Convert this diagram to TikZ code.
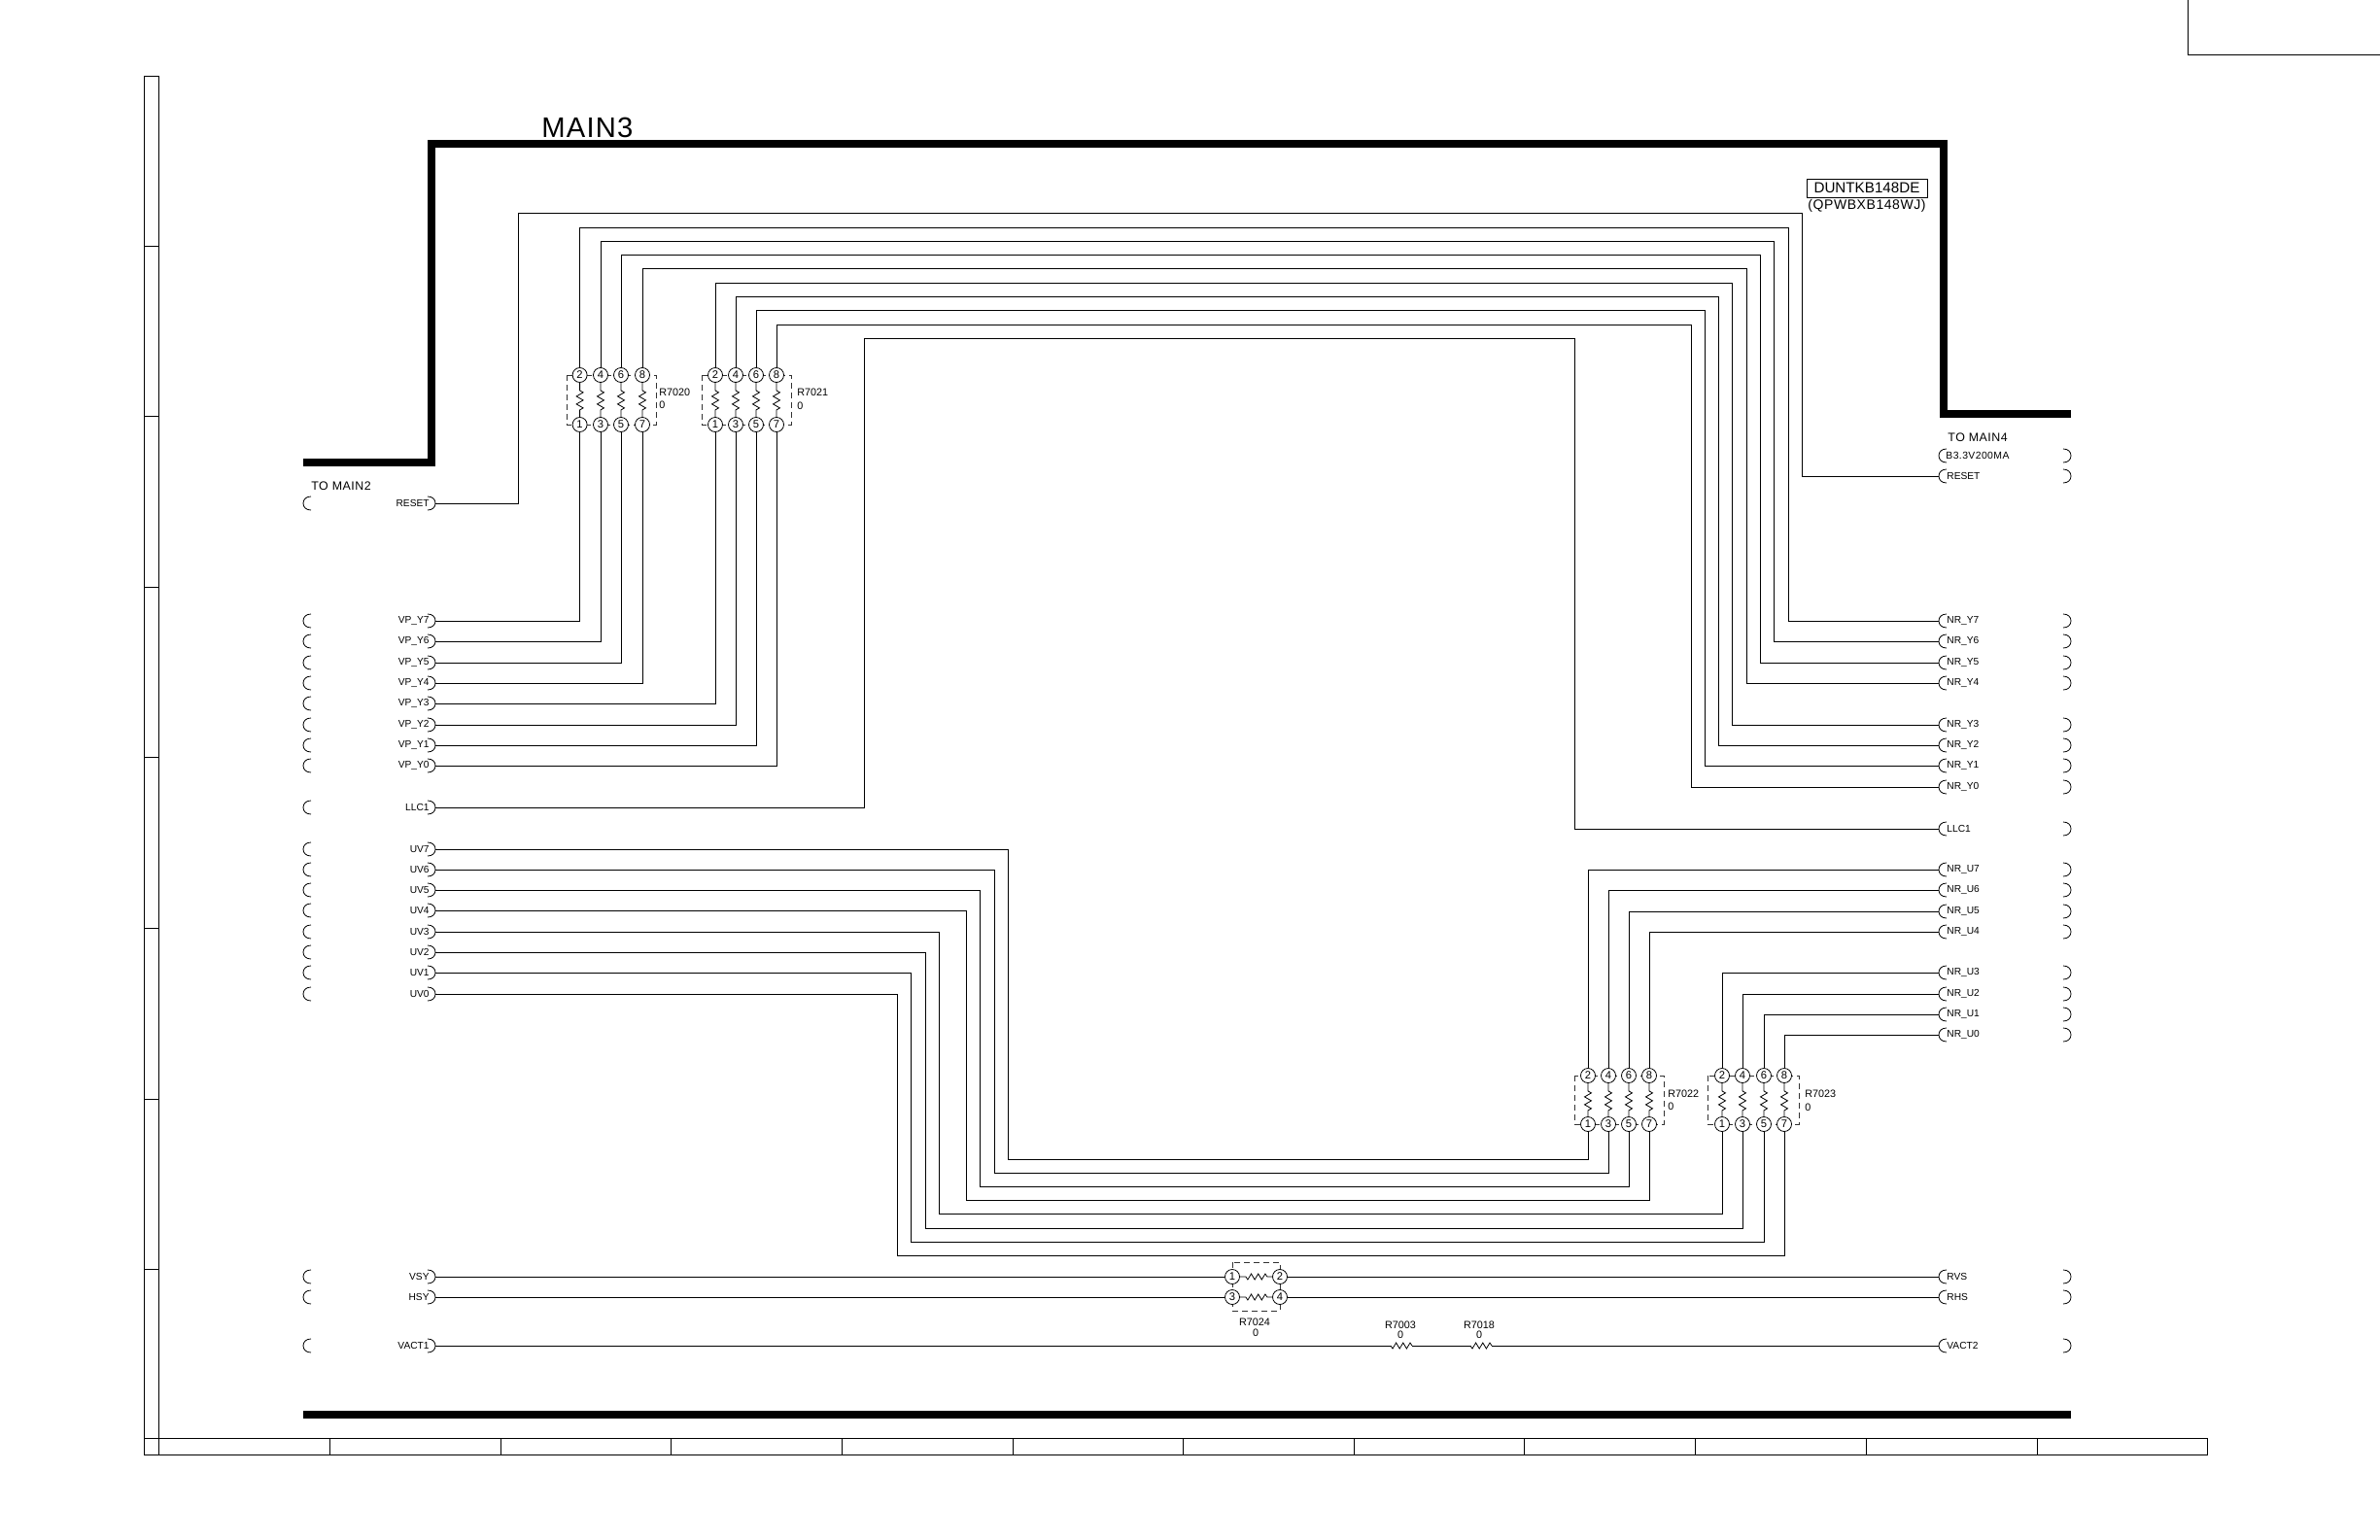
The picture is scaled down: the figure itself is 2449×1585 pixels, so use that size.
\documentclass[tikz,border=0pt]{standalone}
\usepackage{fontspec}
\setmainfont{Liberation Sans}
\newfontfamily\spaced[LetterSpace=4]{Liberation Sans}
\tikzset{
  wire/.style={draw=black,line width=0.48pt,line join=miter},
  frameln/.style={draw=black,line width=0.5pt},
  bus/.style={draw=black,line width=4pt,line join=miter},
  brk/.style={draw=black,line width=0.4pt},
  dbox/.style={draw=black!80,line width=0.4pt,dash pattern=on 3pt off 2pt},
  pin/.style={circle,draw=black,fill=white,line width=0.4pt,minimum size=7.5pt,inner sep=0pt,font=\fontsize{5.6}{6}\selectfont},
  sig/.style={inner sep=0pt,font=\fontsize{5.4}{6}\selectfont},
  plab/.style={inner sep=0pt,font=\fontsize{5.1}{6}\selectfont},
  ttl/.style={inner sep=0pt,font=\spaced\fontsize{6.2}{8}\selectfont},
  portn/.style={inner sep=0pt,minimum size=0pt,outer sep=0pt},
  lbrk/.pic={\draw[brk] (8,-7) .. controls (3,-7) and (0,-4) .. (0,0) .. controls (0,4) and (3,7) .. (8,7);},
  rbrk/.pic={\draw[brk] (0,-7) .. controls (5,-7) and (8,-4) .. (8,0) .. controls (8,4) and (5,7) .. (0,7);}
}
\def\vzag{-- ++(0,8) -- ++(3.5,2) -- ++(-7,4) -- ++(7,4) -- ++(-7,4) -- ++(7,4) -- ++(-3.5,2)}
\def\hzag{-- ++(2,3) -- ++(3.6,-6) -- ++(3.6,6) -- ++(3.6,-6) -- ++(3.6,6) -- ++(3.6,-6) -- ++(2,3)}
% pack: prefix, x1..x4, ytop, ybot, boxL, boxR
\newcommand{\respack}[9]{%
  \draw[dbox] (#8,#6) rectangle (#9,#7);
  \node[pin] (#1n2) at (#2,#6) {2};
  \node[pin] (#1n4) at (#3,#6) {4};
  \node[pin] (#1n6) at (#4,#6) {6};
  \node[pin] (#1n8) at (#5,#6) {8};
  \node[pin] (#1n1) at (#2,#7) {1};
  \node[pin] (#1n3) at (#3,#7) {3};
  \node[pin] (#1n5) at (#4,#7) {5};
  \node[pin] (#1n7) at (#5,#7) {7};
  \draw[brk] (#1n2.south) \vzag -- (#1n1.north);
  \draw[brk] (#1n4.south) \vzag -- (#1n3.north);
  \draw[brk] (#1n6.south) \vzag -- (#1n5.north);
  \draw[brk] (#1n8.south) \vzag -- (#1n7.north);
}
\begin{document}
\begin{tikzpicture}[x=0.5pt,y=-0.5pt]
\useasboundingbox (0,0) rectangle (2449,1585);
\fill[white] (0,0) rectangle (2449,1585);
% sheet frame
\draw[frameln] (148,78) rectangle (163,1497);
\draw[frameln] (148,1480) rectangle (2271,1497);
\foreach \y in {253,428,604,779,955,1131,1306} \draw[frameln] (148,\y) -- (163,\y);
\foreach \x in {339,515,690,866,1042,1217,1393,1568,1744,1920,2096} \draw[frameln] (\x,1480) -- (\x,1497);
\draw[frameln] (2251,0) -- (2251,56) -- (2449,56);
% block outline
\draw[bus] (312,476) -- (444,476) -- (444,148) -- (2000,148) -- (2000,426) -- (2131,426);
\draw[bus] (312,1456) -- (2131,1456);
\node[inner sep=0pt,font=\spaced\fontsize{14.6}{16}\selectfont,anchor=west] (title) at (557,131) {MAIN3};
\node[ttl,anchor=west] (tm2) at (320,500) {TO MAIN2};
\node[ttl,anchor=west] (tm4) at (2004,450) {TO MAIN4};
\node[draw=black,line width=0.5pt,minimum width=62pt,minimum height=9.5pt,inner sep=0pt,font=\fontsize{7.6}{8}\selectfont] (dun) at (1921,193.5) {DUNTKB148DE};
\node[inner sep=0pt,font=\spaced\fontsize{7}{8}\selectfont] (qpw) at (1921,212) {(QPWBXB148WJ)};
% left ports
\foreach \n/\y/\t in {RST/518/RESET,Y7/639/VP\_Y7,Y6/660/VP\_Y6,Y5/682/VP\_Y5,Y4/703/VP\_Y4,Y3/724/VP\_Y3,Y2/746/VP\_Y2,Y1/767/VP\_Y1,Y0/788/VP\_Y0,LLC/831/LLC1,U7/874/UV7,U6/895/UV6,U5/916/UV5,U4/937/UV4,U3/959/UV3,U2/980/UV2,U1/1001/UV1,U0/1023/UV0,VS/1314/VSY,HS/1335/HSY,VA/1385/VACT1}{
  \pic at (312,\y) {lbrk};
  \pic at (440,\y) {rbrk};
  \node[portn] (l\n) at (448,\y) {};
  \node[plab,anchor=east] (lt\n) at (442,\y) {\t};
}
% right ports
\foreach \n/\y/\t in {RST/490/RESET,Y7/639/NR\_Y7,Y6/660/NR\_Y6,Y5/682/NR\_Y5,Y4/703/NR\_Y4,Y3/746/NR\_Y3,Y2/767/NR\_Y2,Y1/788/NR\_Y1,Y0/810/NR\_Y0,LLC/853/LLC1,U7/895/NR\_U7,U6/916/NR\_U6,U5/938/NR\_U5,U4/959/NR\_U4,U3/1001/NR\_U3,U2/1023/NR\_U2,U1/1044/NR\_U1,U0/1065/NR\_U0,VS/1314/RVS,HS/1335/RHS,VA/1385/VACT2}{
  \pic at (1995,\y) {lbrk};
  \pic at (2123,\y) {rbrk};
  \node[portn] (r\n) at (1995,\y) {};
  \node[plab,anchor=west] (rt\n) at (2003,\y) {\t};
}
\pic at (1995,469) {lbrk};
\pic at (2123,469) {rbrk};
\node[inner sep=0pt,font=\spaced\fontsize{5.2}{6}\selectfont,anchor=west] (rtB3) at (2002,469) {B3.3V200MA};
% resistor packs
\respack{a}{596.6}{618}{639}{661}{386}{437}{583}{675}
\respack{b}{736}{757}{778}{799}{386}{437}{722}{814}
\respack{c}{1634}{1655}{1676}{1697}{1107}{1157}{1620}{1712}
\respack{d}{1772}{1793}{1815}{1836}{1107}{1157}{1757}{1851}
\node[sig,anchor=west] (an) at (678,404) {R7020};
\node[sig,anchor=west] (av) at (678,417) {0};
\node[sig,anchor=west] (bn) at (820,404) {R7021};
\node[sig,anchor=west] (bv) at (820,418) {0};
\node[sig,anchor=west] (cn) at (1716,1126) {R7022};
\node[sig,anchor=west] (cv) at (1716,1139) {0};
\node[sig,anchor=west] (dn) at (1857,1126) {R7023};
\node[sig,anchor=west] (dv) at (1857,1140) {0};
% R7024
\draw[dbox] (1268,1299) rectangle (1317,1349);
\node[pin] (e1) at (1268,1314) {1};
\node[pin] (e2) at (1317,1314) {2};
\node[pin] (e3) at (1268,1335) {3};
\node[pin] (e4) at (1317,1335) {4};
\draw[brk] (e1.east) -- ++(6,0) \hzag -- (e2.west);
\draw[brk] (e3.east) -- ++(6,0) \hzag -- (e4.west);
\node[sig] (en) at (1291,1361) {R7024};
\node[sig] (ev) at (1292,1372) {0};
% single resistors
\node[portn] (f1) at (1431,1385) {};
\node[portn] (f2) at (1453,1385) {};
\node[portn] (g1) at (1513,1385) {};
\node[portn] (g2) at (1535,1385) {};
\draw[brk] (f1) \hzag -- (f2);
\draw[brk] (g1) \hzag -- (g2);
\node[sig] (fn) at (1441,1364) {R7003};
\node[sig] (fv) at (1441,1374) {0};
\node[sig] (gn) at (1522,1364) {R7018};
\node[sig] (gv) at (1522,1374) {0};
% wires
\draw[wire] (lRST) -| (533,219.5) -| (1854,490) -- (rRST);
% pack a
\draw[wire] (lY7) -| (an1.south);
\draw[wire] (lY6) -| (an3.south);
\draw[wire] (lY5) -| (an5.south);
\draw[wire] (lY4) -| (an7.south);
\draw[wire] (an2.north) |- (1840,234) |- (rY7);
\draw[wire] (an4.north) |- (1825,248) |- (rY6);
\draw[wire] (an6.north) |- (1811,262) |- (rY5);
\draw[wire] (an8.north) |- (1797,276) |- (rY4);
% pack b
\draw[wire] (lY3) -| (bn1.south);
\draw[wire] (lY2) -| (bn3.south);
\draw[wire] (lY1) -| (bn5.south);
\draw[wire] (lY0) -| (bn7.south);
\draw[wire] (bn2.north) |- (1782,291) |- (rY3);
\draw[wire] (bn4.north) |- (1768,305) |- (rY2);
\draw[wire] (bn6.north) |- (1754,319) |- (rY1);
\draw[wire] (bn8.north) |- (1740,334) |- (rY0);
% LLC1
\draw[wire] (lLLC) -| (889,348) -| (1620,853) -- (rLLC);
% pack c
\draw[wire] (lU7) -| (1037,1193) -| (cn1.south);
\draw[wire] (lU6) -| (1023,1207) -| (cn3.south);
\draw[wire] (lU5) -| (1008,1221) -| (cn5.south);
\draw[wire] (lU4) -| (994,1235) -| (cn7.south);
\draw[wire] (cn2.north) |- (rU7);
\draw[wire] (cn4.north) |- (rU6);
\draw[wire] (cn6.north) |- (rU5);
\draw[wire] (cn8.north) |- (rU4);
% pack d
\draw[wire] (lU3) -| (966,1249) -| (dn1.south);
\draw[wire] (lU2) -| (952,1264) -| (dn3.south);
\draw[wire] (lU1) -| (937,1278) -| (dn5.south);
\draw[wire] (lU0) -| (923,1292) -| (dn7.south);
\draw[wire] (dn2.north) |- (rU3);
\draw[wire] (dn4.north) |- (rU2);
\draw[wire] (dn6.north) |- (rU1);
\draw[wire] (dn8.north) |- (rU0);
% sync and VACT
\draw[wire] (lVS) -- (e1.west);
\draw[wire] (lHS) -- (e3.west);
\draw[wire] (e2.east) -- (rVS);
\draw[wire] (e4.east) -- (rHS);
\draw[wire] (lVA) -- (f1);
\draw[wire] (f2) -- (g1);
\draw[wire] (g2) -- (rVA);
\end{tikzpicture}
\end{document}
